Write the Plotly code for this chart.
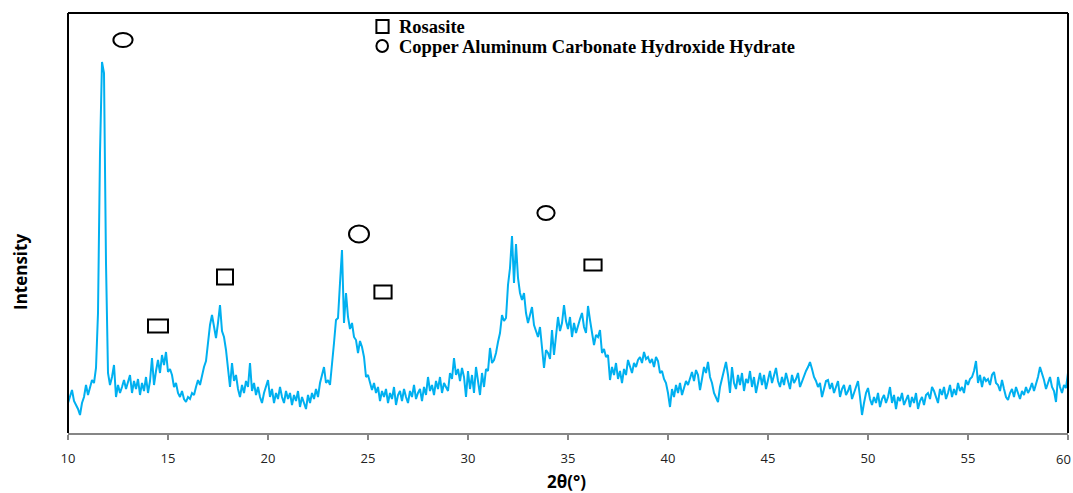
import numpy as np
import plotly.graph_objects as go

# ---- data ----
two_theta = np.round(np.linspace(10, 60, 501), 2)  # scan positions, 0.1 deg step

intensity = [
    30, 36, 43, 32, 28, 24, 18, 30, 36, 48,      # 10
    38, 46, 53, 50, 65, 120, 280, 371, 360, 170,  # 11
    60, 48, 56, 68, 36, 48, 40, 46, 53, 44,      # 12
    50, 58, 40, 52, 44, 54, 38, 50, 42, 56,      # 13
    40, 52, 75, 48, 62, 73, 60, 78, 68, 81,      # 14
    61, 64, 58, 46, 50, 40, 36, 42, 34, 31,      # 15
    36, 34, 40, 38, 46, 53, 48, 58, 66, 72,      # 16
    93, 108, 118, 104, 95, 110, 128, 102, 96, 83,  # 17
    64, 46, 70, 52, 58, 44, 36, 48, 40, 52,      # 18
    46, 70, 42, 50, 38, 46, 36, 30, 40, 48,      # 19
    53, 36, 44, 30, 40, 34, 46, 36, 30, 42,      # 20
    34, 40, 28, 38, 32, 42, 26, 36, 30, 24,      # 21
    38, 30, 40, 34, 44, 36, 50, 58, 66, 50,      # 22
    53, 48, 66, 90, 113, 115, 150, 183, 110, 140,  # 23
    116, 104, 110, 96, 93, 80, 92, 86, 76, 56,   # 24
    58, 50, 43, 50, 40, 46, 32, 42, 36, 44,      # 25
    30, 40, 34, 46, 28, 38, 42, 32, 44, 36,      # 26
    30, 42, 36, 48, 34, 40, 44, 32, 46, 38,      # 27
    56, 42, 48, 38, 52, 44, 56, 40, 50, 46,      # 28
    42, 60, 54, 75, 58, 64, 52, 65, 56, 36,      # 29
    62, 44, 58, 40, 66, 52, 38, 60, 46, 64,      # 30
    62, 85, 70, 73, 80, 91, 100, 118, 112, 115,  # 31
    148, 165, 197, 150, 189, 155, 140, 133, 140, 120,  # 32
    110, 118, 126, 108, 103, 96, 106, 86, 65, 83,  # 33
    80, 74, 103, 78, 96, 116, 102, 110, 128, 112,  # 34
    104, 116, 96, 110, 100, 108, 114, 120, 106, 100,  # 35
    127, 113, 100, 88, 98, 96, 103, 80, 84, 76,  # 36
    78, 53, 66, 58, 70, 54, 62, 50, 64, 58,      # 37
    73, 66, 60, 70, 66, 73, 76, 70, 81, 74,      # 38
    76, 70, 74, 66, 76, 72, 60, 62, 54, 50,      # 39
    40, 26, 44, 36, 48, 40, 50, 38, 46, 52,      # 40
    48, 56, 61, 52, 63, 58, 43, 54, 66, 60,      # 41
    71, 56, 50, 40, 36, 31, 46, 54, 62, 71,      # 42
    58, 40, 66, 50, 44, 58, 48, 60, 42, 54,      # 43
    50, 62, 46, 56, 40, 52, 60, 48, 58, 44,      # 44
    54, 62, 50, 58, 65, 52, 46, 56, 48, 60,      # 45
    52, 44, 58, 50, 54, 60, 46, 52, 56, 62,      # 46
    66, 71, 64, 56, 52, 46, 50, 36, 44, 52,      # 47
    53, 44, 50, 40, 46, 52, 36, 44, 48, 38,      # 48
    42, 48, 34, 40, 46, 52, 36, 18, 30, 40,      # 49
    45, 34, 28, 36, 30, 40, 26, 34, 38, 30,      # 50
    36, 46, 30, 38, 24, 36, 32, 40, 28, 34,      # 51
    38, 26, 36, 30, 40, 24, 32, 36, 28, 38,      # 52
    40, 34, 46, 42, 36, 30, 44, 38, 46, 34,      # 53
    40, 48, 36, 44, 38, 50, 42, 46, 40, 53,      # 54
    48, 54, 56, 62, 72, 50, 58, 46, 56, 52,      # 55
    54, 48, 58, 61, 50, 48, 42, 53, 44, 36,      # 56
    33, 40, 44, 36, 46, 40, 34, 42, 38, 46,      # 57
    40, 44, 50, 42, 48, 56, 66, 60, 53, 44,      # 58
    50, 56, 46, 42, 31, 56, 46, 40, 48, 45,      # 59
    60,                                          # 60
]

x_ticks = [10, 15, 20, 25, 30, 35, 40, 45, 50, 55, 60]

# phase marks: (kind, 2theta centre, intensity centre)
phase_marks = [
    ("circle", 12.75, 393),
    ("square", 14.5, 107),
    ("square", 17.85, 156),
    ("circle", 24.55, 199),
    ("square", 25.75, 141),
    ("circle", 33.9, 220),
    ("square", 36.25, 168),
]
# half sizes in (deg, intensity units)
mark_size = {
    ("circle", 12.75): (0.48, 7),
    ("square", 14.5): (0.5, 6.5),
    ("square", 17.85): (0.4, 7.5),
    ("circle", 24.55): (0.5, 8.5),
    ("square", 25.75): (0.43, 6.5),
    ("circle", 33.9): (0.43, 7),
    ("square", 36.25): (0.43, 5.5),
}

legend_items = ["Rosasite", "Copper Aluminum Carbonate Hydroxide Hydrate"]

fig = go.Figure()
fig.add_trace(go.Scatter(
    x=two_theta, y=intensity, mode="lines",
    line=dict(color="#00B0F0", width=2),
    showlegend=False, hoverinfo="skip",
))

shapes = []
for kind, xc, yc in phase_marks:
    hx, hy = mark_size[(kind, xc)]
    shapes.append(dict(
        type="rect" if kind == "square" else "circle",
        xref="x", yref="y",
        x0=xc - hx, x1=xc + hx, y0=yc - hy, y1=yc + hy,
        line=dict(color="black", width=2), fillcolor="rgba(0,0,0,0)",
    ))

# legend symbols
shapes.append(dict(type="rect", xref="x", yref="y", x0=25.42, x1=26.03, y0=400, y1=413,
                   line=dict(color="black", width=2)))
shapes.append(dict(type="circle", xref="x", yref="y", x0=25.42, x1=26.0, y0=381, y1=393,
                   line=dict(color="black", width=2)))

# black frame: left, top, right
shapes.append(dict(type="line", xref="paper", yref="paper", x0=0, x1=0, y0=0, y1=1,
                   line=dict(color="black", width=2)))
shapes.append(dict(type="line", xref="paper", yref="paper", x0=0, x1=1, y0=1, y1=1,
                   line=dict(color="black", width=2)))
shapes.append(dict(type="line", xref="paper", yref="paper", x0=1, x1=1, y0=0, y1=1,
                   line=dict(color="black", width=2)))

tick_font = dict(family="Open Sans", size=13, color="#222222")

annotations = [
    dict(x=26.45, y=406, xref="x", yref="y", text="<b>" + legend_items[0] + "</b>",
         showarrow=False, xanchor="left", yanchor="middle",
         font=dict(family="Liberation Serif", size=18.5, color="black")),
    dict(x=26.45, y=386, xref="x", yref="y", text="<b>" + legend_items[1] + "</b>",
         showarrow=False, xanchor="left", yanchor="middle",
         font=dict(family="Liberation Serif", size=18.5, color="black")),
    dict(x=-0.048, y=0.5, xref="paper", yref="paper", text="<b>Intensity</b>",
         textangle=-90, showarrow=False, xanchor="center", yanchor="middle",
         yshift=-49, font=dict(family="Open Sans", size=17, color="black")),
    # x-axis title
    dict(x=0.498, y=0, xref="paper", yref="paper", text="<b>2θ(°)</b>",
         showarrow=False, xanchor="center", yanchor="middle", yshift=-48,
         font=dict(family="Open Sans", size=17, color="black")),
    # last tick label (plotly drops it at the page edge)
    dict(x=60, y=0, xref="x", yref="paper", text=str(x_ticks[-1]),
         showarrow=False, xanchor="center", yanchor="top", yshift=-15, xshift=-5,
         font=tick_font),
]

fig.update_layout(
    width=1073, height=493,
    margin=dict(l=68, r=5, t=13, b=60, autoexpand=False),
    paper_bgcolor="white", plot_bgcolor="white",
    shapes=shapes, annotations=annotations,
    xaxis=dict(
        range=[10, 60], tickvals=x_ticks, ticktext=[str(t) for t in x_ticks],
        showgrid=False, zeroline=False, automargin=False,
        showline=True, linecolor="#868686", linewidth=2,
        ticks="outside", ticklen=5, tickcolor="#868686", tickwidth=2,
        ticklabelstandoff=7,
        tickfont=tick_font,
    ),
    yaxis=dict(
        range=[0, 420], showgrid=False, zeroline=False, showticklabels=False,
        showline=False, ticks="", automargin=False,
    ),
)

fig.write_html("out.html")
